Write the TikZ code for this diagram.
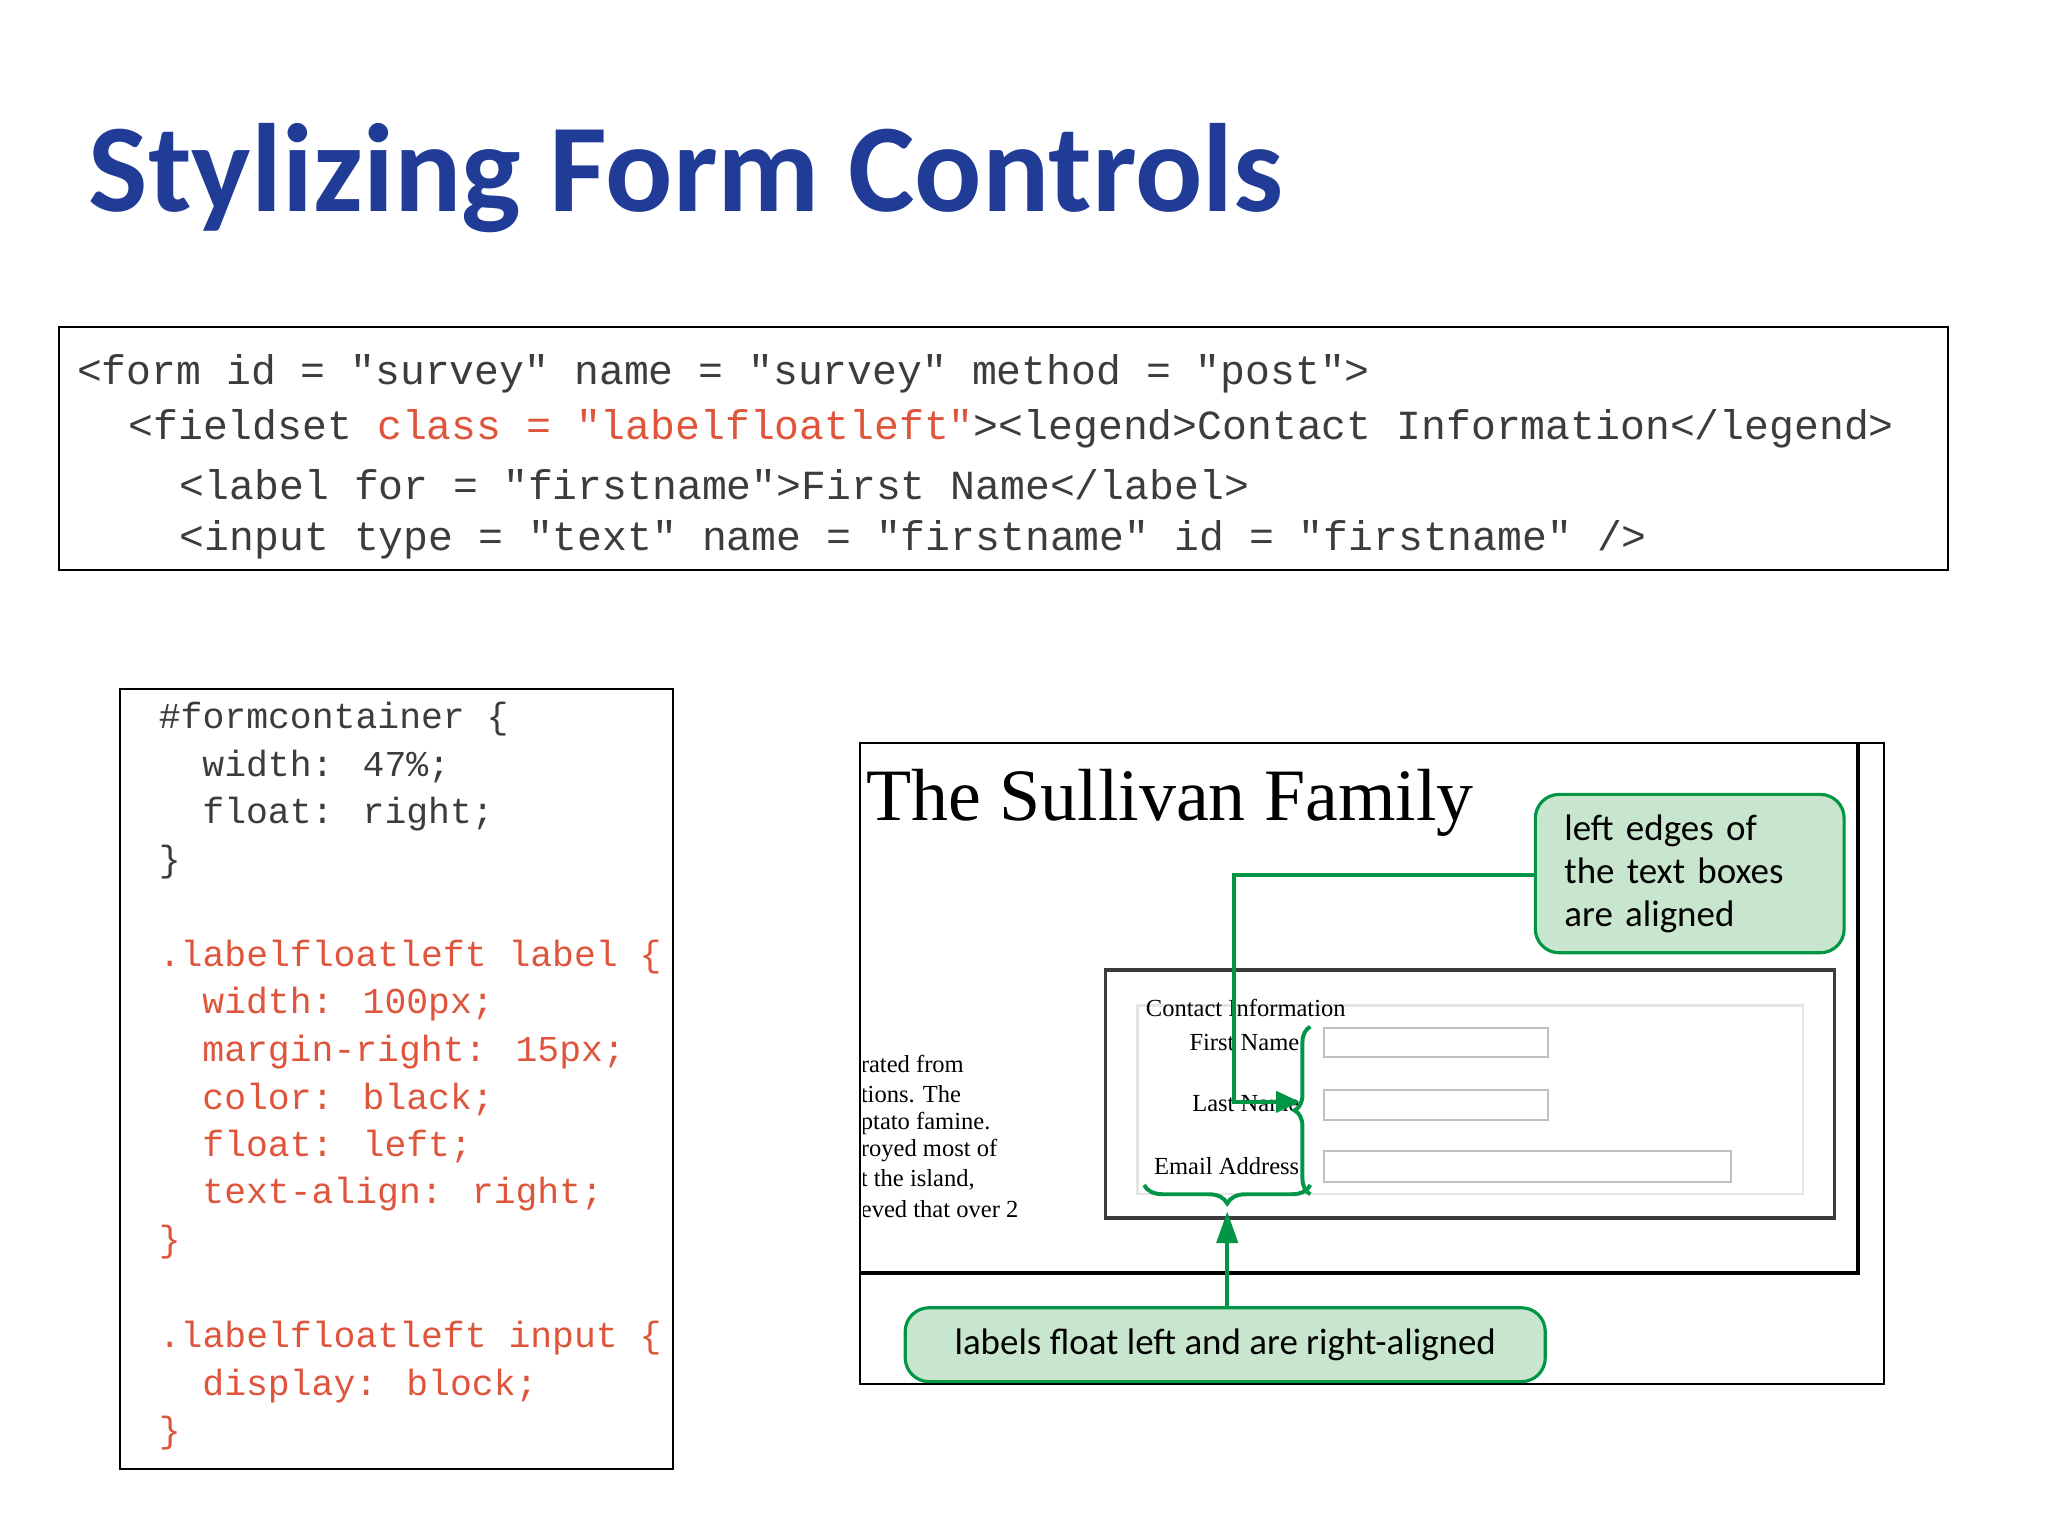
\documentclass[tikz,border=0pt]{standalone}
\usepackage{fontspec}
\setmainfont{Liberation Serif}
\newfontfamily\calib{Carlito}
\newfontfamily\cmono{Liberation Mono}
\usetikzlibrary{decorations.pathreplacing,arrows.meta}
\definecolor{ttl}{RGB}{33,60,150}
\definecolor{cred}{RGB}{222,85,60}
\definecolor{cgray}{RGB}{60,60,60}
\definecolor{gline}{RGB}{0,150,70}
\definecolor{gfill}{RGB}{200,230,205}
\tikzset{
 topc/.style={anchor=west,inner sep=0,font=\cmono\fontsize{15.7}{18}\selectfont,text=cgray},
 leftc/.style={anchor=west,inner sep=0,font=\cmono\fontsize{13.8}{16}\selectfont,text=cgray},
 redc/.style={leftc,text=cred},
 shot/.style={inner sep=0,font=\fontsize{9.3}{10}\selectfont},
 callout/.style={draw=gline,line width=1.2pt,fill=gfill,rounded corners=9pt},
 gl/.style={draw=gline,line width=1.5pt},
}
\begin{document}
\begin{tikzpicture}[x=0.5pt,y=-0.5pt]
\useasboundingbox (0,0) rectangle (1552,1164);
\node[anchor=base west,inner sep=0,text=ttl,font=\calib\bfseries\fontsize{47.6}{54}\selectfont] (title) at (67,160) {Stylizing Form Controls};
% top code box
\draw[line width=0.8pt] (45,248) rectangle (1476,432);
\node[topc] (t1) at (58,283) {<form id = "survey" name = "survey" method = "post">};
\node[topc] (t2) at (97,325) {<fieldset \textcolor{cred}{class = "labelfloatleft"}><legend>Contact Information</legend>};
\node[topc] (t3) at (136,367) {<label for = "firstname">First Name</label>};
\node[topc] (t4) at (136,409) {<input type = "text" name = "firstname" id = "firstname" />};
% left code box
\draw[line width=0.8pt] (91,522) rectangle (510,1113);
\node[leftc] (l1) at (120,545) {\#formcontainer \{};
\node[leftc] (l2) at (153,581) {width: 47\%;};
\node[leftc] (l3) at (153,617) {float: right;};
\node[leftc] (l4) at (120,653) {\}};
\node[redc] (l5) at (120,725) {.labelfloatleft label \{};
\node[redc] (l6) at (153,761) {width: 100px;};
\node[redc] (l7) at (153,797) {margin-right: 15px;};
\node[redc] (l8) at (153,833) {color: black;};
\node[redc] (l9) at (153,869) {float: left;};
\node[redc] (l10) at (153,905) {text-align: right;};
\node[redc] (l11) at (120,941) {\}};
\node[redc] (l12) at (120,1014) {.labelfloatleft input \{};
\node[redc] (l13) at (153,1050) {display: block;};
\node[redc] (l14) at (120,1086) {\}};
% right screenshot
\draw[line width=0.8pt] (652,563) rectangle (1428,1049);
\draw[line width=1.5pt] (1408,563) -- (1408,965) -- (652,965);
\node[anchor=base west,inner sep=0,font=\fontsize{28}{30}\selectfont] (fam) at (656,622) {The Sullivan Family};
\begin{scope}
\clip (654,780) rectangle (800,930);
\foreach \t/\y in {{rated from}/806,{tions. The}/829,{ptato famine.}/851,{royed most of}/872,{t the island,}/894,{eved that over 2}/916}
  \node[shot,anchor=west] at (652,\y) {\t};
\end{scope}
\draw[line width=1.2pt,cgray] (838,735) rectangle (1390,923);
\draw[black!10,line width=0.8pt] (862,762) rectangle (1366,905);
\node[shot,anchor=west] (leg) at (868,764) {Contact Information};
\node[shot,anchor=east] (fn) at (985,790) {First Name};
\node[shot,anchor=east] (ln) at (985,836) {Last Name};
\node[shot,anchor=east] (em) at (985,884) {Email Address};
\draw[black!25,line width=0.8pt] (1003,779) rectangle (1173,801);
\draw[black!25,line width=0.8pt] (1003,826) rectangle (1173,849);
\draw[black!25,line width=0.8pt] (1003,872) rectangle (1312,896);
% callouts
\node[callout,minimum width=109.5pt,minimum height=60pt,text width=95pt,align=left,font=\calib\fontsize{14}{16.3}\selectfont,inner xsep=11pt] (c1) at (1280.5,662) {left edges of\\the text boxes\\are aligned};
\node[callout,minimum width=242.5pt,minimum height=28pt,font=\calib\fontsize{14}{16}\selectfont] (c2) at (928.5,1019) {labels float left and are right-aligned};
\coordinate (k1) at (935,663);
\coordinate (k2) at (935,835);
\coordinate (a1) at (985,835);
\draw[gl,-{Triangle[length=9pt,width=8pt]}] (c1.west |- k1) -- (k1) -- (k2) -- (a1);
\draw[gl,decorate,decoration={brace,amplitude=6pt}] (993,905) -- (993,778);
\draw[gl,decorate,decoration={brace,amplitude=7pt,mirror}] (867,898) -- (993,898);
\coordinate (a2) at (930,918);
\draw[gl,-{Triangle[length=12pt,width=8pt]}] (c2.north -| a2) -- (a2);
\end{tikzpicture}
\end{document}
